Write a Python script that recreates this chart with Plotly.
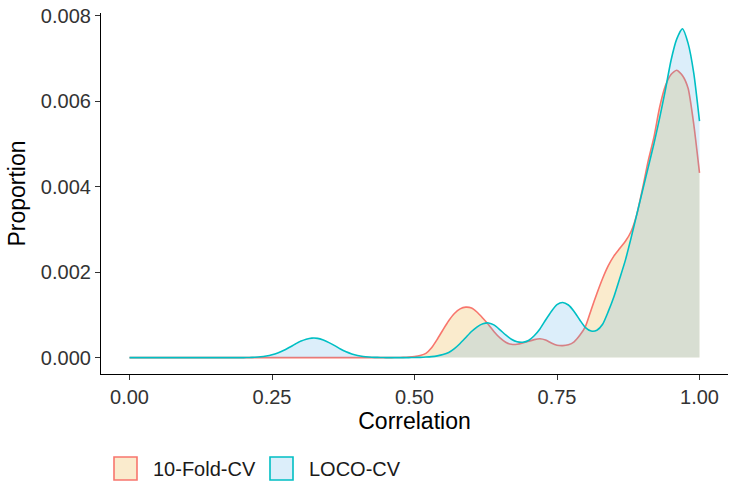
import plotly.graph_objects as go

# Correlation grid (x) and density values (y, x1e-3)
correlation = [round(i * 0.01, 2) for i in range(101)]

fold10 = [
    0, 0, 0, 0, 0, 0, 0, 0, 0, 0,            # 0.00-0.09
    0, 0, 0, 0, 0, 0, 0, 0, 0, 0,            # 0.10-0.19
    0, 0, 0, 0, 0, 0, 0, 0, 0, 0,            # 0.20-0.29
    0, 0, 0, 0, 0, 0, 0, 0, 0, 0,            # 0.30-0.39
    0, 0, 0, 0, 0, 0, 0, 0.002, 0.005, 0.012,  # 0.40-0.49
    0.025, 0.05, 0.10, 0.23, 0.43, 0.65, 0.86, 1.03, 1.14, 1.18,  # 0.50-0.59
    1.16, 1.06, 0.92, 0.77, 0.60, 0.46, 0.36, 0.31, 0.31, 0.34,   # 0.60-0.69
    0.38, 0.42, 0.44, 0.41, 0.34, 0.29, 0.28, 0.30, 0.37, 0.52,   # 0.70-0.79
    0.73, 1.12, 1.50, 1.85, 2.15, 2.38, 2.55, 2.72, 2.95, 3.35,   # 0.80-0.89
    3.95, 4.60, 5.15, 5.85, 6.35, 6.62, 6.72, 6.60, 6.30, 5.45,   # 0.90-0.99
    4.32,                                                          # 1.00
]

loco = [
    0, 0, 0, 0, 0, 0, 0, 0, 0, 0,            # 0.00-0.09
    0, 0, 0, 0, 0, 0, 0, 0, 0, 0,            # 0.10-0.19
    0, 0.003, 0.008, 0.018, 0.038, 0.068, 0.11, 0.165, 0.235, 0.31,  # 0.20-0.29
    0.38, 0.43, 0.455, 0.45, 0.41, 0.35, 0.28, 0.20, 0.135, 0.085,   # 0.30-0.39
    0.05, 0.027, 0.014, 0.006, 0.002, 0, 0, 0, 0, 0,                 # 0.40-0.49
    0.003, 0.006, 0.012, 0.022, 0.04, 0.07, 0.12, 0.21, 0.33, 0.47,  # 0.50-0.59
    0.61, 0.72, 0.79, 0.81, 0.76, 0.65, 0.53, 0.43, 0.37, 0.36,      # 0.60-0.69
    0.40, 0.51, 0.67, 0.88, 1.08, 1.24, 1.29, 1.23, 1.08, 0.88,      # 0.70-0.79
    0.70, 0.62, 0.64, 0.78, 1.08, 1.43, 1.85, 2.28, 2.80, 3.35,      # 0.80-0.89
    3.90, 4.45, 5.00, 5.60, 6.25, 6.95, 7.45, 7.69, 7.35, 6.65,      # 0.90-0.99
    5.53,                                                             # 1.00
]

series_names = ["10-Fold-CV", "LOCO-CV"]
x_ticks = [0.0, 0.25, 0.5, 0.75, 1.0]
y_ticks = [0.0, 0.002, 0.004, 0.006, 0.008]

line_colors = ["#F8766D", "#00BFC4"]
fill_colors = ["rgba(230,155,5,0.2)", "rgba(80,170,230,0.2)"]
legend_fills = ["#FAEBCD", "#DCEEFA"]

fig = go.Figure()
for name, vals, lc, fc in zip(series_names, [fold10, loco], line_colors, fill_colors):
    fig.add_trace(go.Scatter(
        x=correlation, y=[v / 1000 for v in vals], name=name, mode="lines",
        line=dict(color=lc, width=1.6, shape="spline", smoothing=0.6),
        fill="tozeroy", fillcolor=fc, showlegend=False,
    ))

# Legend drawn at the bottom, as in the reference
legend_x = [114, 270]
text_x = [151, 307]
for i, name in enumerate(series_names):
    fig.add_shape(type="rect", xref="paper", yref="paper",
                  x0=(legend_x[i] - 101) / 627, x1=(legend_x[i] + 23 - 101) / 627,
                  y0=-(480 - 374) / 361, y1=-(457 - 374) / 361,
                  line=dict(color=line_colors[i], width=1.6), fillcolor=legend_fills[i])
    fig.add_annotation(text=name, xref="paper", yref="paper",
                       x=(text_x[i] - 101) / 627, y=-(468.5 - 374) / 361,
                       xanchor="left", yanchor="middle", showarrow=False,
                       font=dict(size=20, color="#1a1a1a"))

axis_common = dict(
    showline=True, linecolor="black", linewidth=1.2,
    ticks="outside", ticklen=5, tickwidth=1.1, tickcolor="#333333",
    showgrid=False, zeroline=False, automargin=False,
    tickfont=dict(size=20, color="#333333"),
)

fig.update_layout(
    width=729, height=484,
    margin=dict(l=101, r=1, t=13, b=110),
    paper_bgcolor="white", plot_bgcolor="white",
    font=dict(family="Liberation Sans, Arial, sans-serif", color="black"),
    showlegend=False,
    xaxis=dict(range=[-0.05, 1.05], tickvals=x_ticks, tickformat=".2f",
               title=dict(text="Correlation", font=dict(size=23), standoff=5),
               **axis_common),
    yaxis=dict(range=[-0.000384, 0.00806], tickvals=y_ticks, tickformat=".3f",
               title=dict(text="Proportion", font=dict(size=23), standoff=8),
               **axis_common),
)

fig.write_html("out.html", config={"displayModeBar": False},
               post_script="document.body.style.margin='0px';document.body.style.overflow='hidden';")
